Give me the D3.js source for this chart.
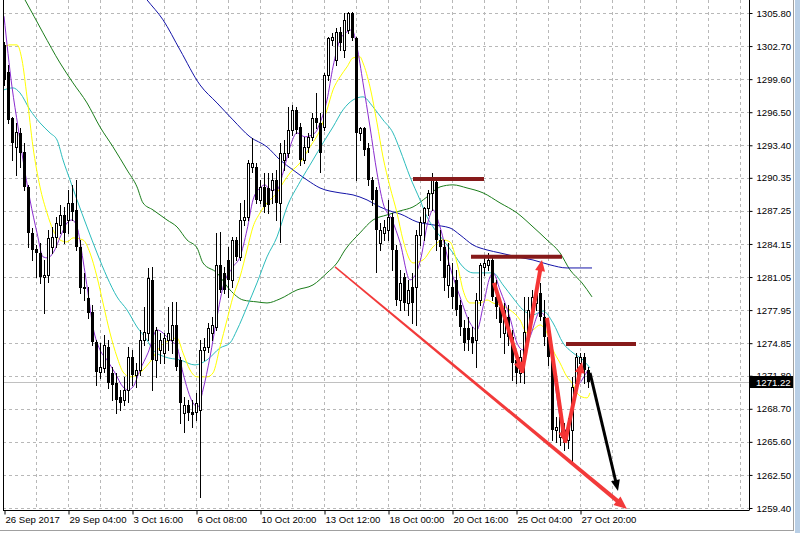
<!DOCTYPE html>
<html><head><meta charset="utf-8">
<script src="https://cdn.jsdelivr.net/npm/d3@7"></script>
<style>
body{margin:0;background:#fff;overflow:hidden}
text{font-family:"Liberation Sans",Arial,sans-serif;}
</style>
</head><body>
<svg id="chart" width="800" height="533"></svg>
<script>
// ---------------- DATA ----------------
// candles: [open, high, low, close], one per H4 bar (XAUUSD-like)
const candles = [
[1302.81,1303.09,1299.06,1299.53],[1300.28,1300.94,1295.50,1295.78],[1295.97,1296.06,1292.03,1293.62],[1293.25,1295.50,1290.62,1294.66],
[1294.56,1295.03,1291.37,1292.69],[1292.78,1293.62,1289.22,1289.50],[1289.50,1289.69,1283.87,1285.19],[1285.19,1285.65,1282.65,1283.59],
[1283.69,1284.06,1281.06,1283.31],[1283.31,1284.25,1280.50,1281.06],[1281.06,1282.65,1277.69,1281.25],[1281.25,1285.47,1280.59,1284.72],
[1283.87,1285.75,1283.31,1284.81],[1284.81,1286.69,1283.87,1286.12],[1285.94,1287.81,1285.19,1286.87],[1286.87,1287.62,1284.25,1285.19],
[1286.40,1289.22,1285.19,1288.00],[1288.00,1289.69,1286.40,1287.15],[1287.34,1290.15,1283.59,1283.87],[1283.87,1284.53,1279.56,1280.03],
[1280.12,1281.44,1278.90,1279.94],[1279.09,1280.12,1277.22,1277.69],[1277.78,1278.44,1274.69,1274.97],[1274.97,1275.15,1270.94,1272.15],
[1272.15,1274.87,1271.59,1272.62],[1272.53,1275.62,1272.15,1274.69],[1274.50,1275.15,1270.65,1271.12],[1272.06,1272.62,1269.53,1270.94],
[1271.12,1272.06,1268.31,1269.53],[1269.81,1270.47,1268.59,1269.25],[1269.53,1271.69,1269.06,1270.47],[1270.47,1274.50,1269.34,1273.56],
[1273.56,1274.22,1270.94,1271.87],[1271.87,1273.00,1270.75,1272.34],[1272.34,1276.09,1271.87,1275.15],[1275.15,1278.25,1274.69,1275.90],
[1275.81,1281.90,1275.15,1280.97],[1280.78,1282.00,1270.47,1273.28],[1273.28,1276.37,1271.69,1276.09],[1274.22,1275.81,1273.00,1275.15],
[1273.94,1275.81,1273.00,1275.34],[1275.15,1278.25,1274.22,1275.81],[1275.15,1278.72,1273.94,1276.56],[1276.56,1278.72,1272.34,1272.62],
[1273.28,1273.56,1267.37,1269.25],[1268.31,1269.81,1266.53,1269.06],[1269.06,1269.53,1267.65,1268.31],[1268.40,1269.53,1267.00,1268.12],
[1268.40,1270.19,1267.65,1269.25],[1268.59,1275.15,1260.44,1274.22],[1274.22,1275.34,1273.28,1274.50],[1274.50,1276.75,1274.03,1276.28],
[1275.81,1277.31,1275.15,1276.56],[1276.37,1285.19,1276.09,1282.19],[1282.19,1285.28,1279.65,1279.84],[1281.44,1282.00,1279.56,1279.84],
[1282.65,1283.87,1279.19,1280.78],[1280.78,1284.81,1280.12,1284.53],[1284.53,1284.81,1282.65,1282.94],[1282.94,1288.00,1282.65,1286.40],
[1286.40,1288.28,1285.94,1286.69],[1286.69,1292.03,1286.40,1291.75],[1291.37,1294.09,1290.90,1291.75],[1291.37,1291.75,1288.00,1288.28],
[1288.28,1290.15,1288.00,1289.50],[1289.50,1290.81,1287.15,1287.62],[1289.40,1290.81,1287.06,1287.81],[1289.22,1290.81,1288.00,1290.15],
[1290.15,1291.09,1286.40,1288.00],[1288.00,1293.62,1284.34,1292.69],[1292.03,1293.90,1291.09,1292.69],[1292.69,1297.00,1292.31,1294.84],
[1294.84,1297.19,1294.37,1296.72],[1296.72,1297.00,1294.56,1294.84],[1295.12,1295.50,1291.56,1292.03],[1292.03,1294.19,1291.75,1293.25],
[1293.25,1294.56,1292.78,1294.19],[1294.19,1296.44,1293.90,1295.97],[1295.97,1298.31,1295.03,1295.50],[1295.50,1296.44,1290.90,1292.69],
[1295.12,1300.19,1294.84,1300.00],[1300.00,1303.56,1299.53,1303.47],[1303.28,1303.94,1302.81,1303.56],[1301.40,1304.41,1300.94,1304.03],
[1304.03,1304.50,1302.34,1303.00],[1302.34,1305.81,1301.69,1305.16],[1304.22,1305.90,1303.94,1305.81],[1305.81,1305.90,1303.28,1303.47],
[1303.47,1303.56,1290.15,1294.56],[1294.56,1295.12,1293.90,1295.03],[1295.03,1295.12,1292.50,1292.97],[1293.16,1293.62,1289.69,1290.15],
[1290.15,1290.44,1287.81,1288.28],[1289.22,1289.50,1281.53,1285.47],[1284.25,1286.12,1283.59,1285.47],[1285.19,1286.40,1284.53,1285.75],
[1285.47,1288.28,1284.53,1286.69],[1286.69,1287.06,1281.72,1283.59],[1283.59,1284.06,1278.44,1278.90],[1278.90,1281.72,1277.97,1280.50],
[1281.06,1281.44,1277.97,1278.62],[1278.62,1280.78,1277.50,1279.84],[1280.12,1281.44,1276.75,1278.62],[1280.12,1285.47,1276.56,1285.00],
[1285.00,1286.69,1284.06,1286.22],[1286.22,1287.62,1284.53,1287.53],[1287.53,1289.22,1286.87,1288.94],[1288.94,1290.81,1287.34,1290.15],
[1289.97,1290.34,1283.59,1284.53],[1284.53,1285.47,1282.65,1283.87],[1283.87,1284.53,1279.84,1280.97],[1280.31,1284.25,1279.19,1282.19],
[1280.12,1282.37,1278.16,1279.19],[1280.78,1281.72,1277.50,1277.97],[1278.44,1278.90,1275.62,1276.37],[1276.28,1277.03,1274.22,1274.87],
[1276.28,1277.31,1274.22,1275.15],[1275.44,1276.37,1273.94,1274.87],[1275.15,1279.56,1272.62,1278.90],[1278.90,1282.37,1278.44,1282.19],
[1282.00,1282.94,1281.25,1282.37],[1282.19,1283.31,1281.72,1282.65],[1282.65,1282.94,1278.90,1279.19],[1279.19,1280.78,1277.22,1278.25],
[1278.25,1278.62,1275.44,1276.75],[1275.81,1278.62,1273.94,1277.97],[1277.31,1278.44,1274.69,1275.44],[1275.44,1276.09,1271.40,1273.00],
[1273.28,1274.22,1271.12,1272.06],[1272.06,1274.22,1271.22,1273.56],[1273.56,1279.19,1271.12,1275.90],[1275.81,1279.19,1275.15,1277.97],
[1277.97,1279.84,1277.50,1279.19],[1278.62,1280.31,1277.97,1279.56],[1279.56,1280.50,1277.03,1277.31],[1277.31,1278.90,1274.69,1275.44],
[1275.44,1276.09,1272.81,1273.56],[1273.56,1274.22,1265.78,1266.72],[1266.72,1267.94,1265.59,1267.00],[1266.06,1268.31,1265.31,1267.94],
[1266.72,1267.37,1264.84,1265.50],[1265.78,1267.84,1265.03,1267.19],[1266.72,1271.69,1263.62,1270.75],[1271.12,1273.94,1270.47,1273.56],
[1273.00,1273.94,1272.34,1273.56],[1273.56,1273.94,1271.12,1272.34],[1272.34,1272.62,1270.75,1271.22]
];

// moving averages, read as [bar index, price]
const maPurple = [[0,1305.5],[2,1298.87],[3.5,1295.12],[4.75,1292.03],[6.5,1288.28],[8.25,1285.19],[9.75,1282.94],[11,1282.84],[12.25,1283.31],[14.5,1285.19],[15.75,1286.12],[17,1286.40],[18.25,1285.75],[19.75,1282.65],[21,1279.56],[22.25,1276.37],[24,1274.22],[25.75,1273.28],[27.75,1272.06],[29.75,1270.75],[31,1270.47],[32.25,1270.75],[34,1272.34],[36,1273.94],[38.25,1276.09],[41.5,1275.15],[43.25,1274.50],[44.75,1272.06],[47.25,1269.25],[48.5,1268.87],[49.75,1270.47],[51.5,1273.56],[53.25,1277.31],[54.75,1280.12],[57.25,1282.00],[59,1282.94],[60.75,1285.47],[62.25,1288.28],[64,1289.40],[65.25,1289.69],[66.5,1289.22],[68.25,1289.22],[69.75,1290.81],[71.5,1293.25],[73.25,1294.56],[75.25,1294.19],[77.75,1294.56],[79,1295.50],[80.75,1297.65],[82.25,1300.75],[84,1303.28],[85.75,1304.03],[87,1304.22],[88.25,1302.62],[89.75,1299.25],[91.5,1295.12],[93.25,1290.81],[94.75,1288.00],[97,1286.40],[99,1284.3],[101.5,1280.78],[104,1282.47],[106,1286.22],[107.25,1287.34],[109,1285.75],[111.5,1282.00],[114,1279.19],[116.5,1276.75],[118.25,1276.09],[119.75,1278.25],[121.5,1281.06],[122.25,1281.44],[124,1279.84],[126.5,1277.22],[128.25,1274.87],[129.75,1274.22],[131.5,1275.44],[134,1277.78],[135.25,1277.31],[136.5,1274.87],[137.75,1271.12],[139,1267.94],[140.25,1266.72],[141.5,1267.65],[142.75,1270.19],[144.5,1271.40],[146,1272.34]];
const maYellow = [[0,1302.6],[1.5,1302.81],[3.25,1302.81],[4.5,1301.40],[5.75,1297.94],[7.25,1293.25],[9,1289.50],[10.75,1287.06],[12.25,1285.47],[14,1284.53],[15.75,1284.34],[17.25,1284.72],[19.75,1284.53],[21.5,1283.31],[23.25,1281.06],[24.75,1278.62],[26.5,1275.81],[28.25,1273.56],[29.75,1272.15],[31.5,1271.69],[33.25,1271.87],[34.75,1272.34],[36.5,1273.09],[39,1274.50],[41.5,1275.15],[43.25,1275.34],[44.75,1273.94],[46.5,1272.34],[48.25,1271.69],[50.75,1271.69],[52.25,1272.06],[54,1274.50],[55.75,1277.03],[57.25,1279.19],[59,1281.06],[60.75,1283.59],[62.25,1285.75],[64,1287.06],[65.75,1288.00],[68.25,1288.94],[69.75,1289.87],[71.5,1290.81],[74,1291.75],[76.5,1293.25],[79,1294.84],[80.75,1296.72],[82.25,1298.59],[84,1299.81],[85.75,1300.75],[87.25,1301.59],[89,1301.69],[89.75,1301.12],[91.5,1298.87],[93.25,1295.50],[94.75,1292.31],[96.5,1289.50],[98.25,1287.06],[99.75,1284.53],[102.25,1282.37],[104.75,1282.65],[107.25,1283.87],[109.75,1284.53],[111.5,1284.34],[113.25,1282.37],[114.75,1279.84],[116.5,1278.62],[119,1278.62],[120.75,1278.90],[122.25,1278.62],[124,1278.44],[126.5,1277.97],[129,1277.03],[130.75,1275.81],[132.25,1276.09],[134,1276.56],[135.75,1275.81],[137.25,1274.22],[139,1273.00],[140.75,1271.69],[142,1271.12],[143.25,1270.19],[144.5,1269.81],[145.75,1269.72],[146.5,1270.19]];
const maCyan = [[0,1298.6],[2.25,1298.78],[4,1298.31],[6.5,1296.72],[9,1295.50],[11.5,1294.56],[13.25,1293.90],[14.75,1292.03],[16.5,1290.15],[18.25,1288.28],[20.75,1285.75],[23.25,1283.31],[25.75,1281.06],[28.25,1279.19],[30.75,1277.97],[33.25,1276.37],[35.75,1275.15],[37.25,1274.22],[40.25,1273.56],[44,1273.28],[47.75,1272.81],[50.75,1273.28],[54,1274.40],[56.5,1274.87],[58.25,1276.09],[60.75,1278.25],[63.25,1280.50],[65.75,1282.94],[68.25,1284.81],[70.75,1287.62],[74,1289.97],[77.25,1292.03],[79.75,1293.62],[82.25,1295.12],[84.75,1296.72],[87.25,1297.65],[89.75,1297.94],[92.25,1297.00],[94.75,1295.78],[97.25,1294.56],[99,1292.97],[101.5,1290.44],[104,1288.28],[105.75,1286.69],[107.25,1285.75],[109.75,1284.53],[112.25,1283.31],[114.75,1282.00],[117.25,1281.44],[119.75,1281.44],[122.25,1281.44],[124.75,1280.31],[127.25,1279.09],[129.75,1277.97],[132.25,1277.50],[134.75,1277.87],[137.25,1276.75],[139.75,1274.87],[142.25,1273.94],[144.75,1273.28],[146.5,1272.53]];
const maGreen = [[0,1310.4],[5.25,1307.03],[9.75,1303.94],[14,1301.12],[17.25,1299.25],[20.75,1297.37],[24,1295.12],[27.25,1293.25],[30.75,1291.09],[33.25,1289.50],[34.75,1288.00],[37.25,1287.34],[40.75,1286.40],[43.25,1285.75],[45.75,1284.53],[48.25,1283.78],[49.75,1282.37],[53.25,1281.44],[56.5,1279.84],[59.75,1278.90],[63.25,1278.72],[65.75,1278.62],[69,1279.00],[73.25,1279.84],[77.25,1280.31],[80.75,1281.44],[83.25,1282.37],[85.25,1283.59],[89,1285.19],[92.25,1286.40],[95.75,1286.87],[99,1287.25],[102.25,1287.62],[105.75,1288.56],[109,1289.50],[112.25,1289.69],[115.75,1289.40],[119.75,1288.94],[124,1288.00],[128.25,1287.06],[132.25,1285.75],[135.75,1284.53],[139,1283.31],[141.5,1281.72],[144.5,1280.50],[147,1279.19]];
const maBlue = [[31.5,1309.09],[35.75,1307.03],[39.75,1305.16],[44,1302.34],[49,1299.06],[53.25,1297.37],[57.25,1295.78],[61.5,1294.19],[65.75,1293.25],[69,1292.03],[72.25,1291.09],[75.75,1290.15],[79,1289.40],[84,1288.94],[87.25,1288.75],[90.75,1288.28],[94,1287.62],[97.25,1287.15],[99,1286.97],[103.25,1286.22],[107.25,1285.94],[111.5,1285.65],[114,1285.00],[117.25,1284.06],[120.75,1283.59],[124,1283.31],[128.25,1282.94],[132.25,1282.65],[136.5,1282.19],[140.75,1281.90],[147,1281.90]];

// axis ticks
const priceTicks = [1305.80,1302.70,1299.60,1296.50,1293.40,1290.35,1287.25,1284.15,1281.05,1277.95,1274.85,1271.80,1268.70,1265.60,1262.50,1259.40];
const timeTickBars = [0,16,32,48,64,80,96,112,128,144];
const timeLabels = ["26 Sep 2017","29 Sep 04:00","3 Oct 16:00","6 Oct 08:00","10 Oct 20:00","13 Oct 12:00","18 Oct 00:00","20 Oct 16:00","25 Oct 04:00","27 Oct 20:00"];
const lastPrice = 1271.22;

// drawn annotations: [bar, price]
const resistanceLines = [[102.25,120,1290.25],[116.75,139.5,1282.94],[140.5,158,1274.78]]; // [fromBar,toBar,price]
const trendLine = [[82.75,1282.00],[155.75,1259.31]];
const zigzagArrows = [[[122.5,1280.50],[129.5,1272.06]],[[129.5,1272.06],[134.5,1282.65]],[[135.75,1277.22],[140.25,1265.50]],[[140.25,1265.50],[144.5,1273.09]]];
const forecastArrow = [[146.5,1272.06],[153.5,1261.0]];

// ---------------- DRAW ----------------
const svg = d3.select("#chart");
const plotL = 3, plotR = 749, plotT = 0, plotB = 510;
const x = d3.scaleLinear().domain([0,146]).range([4,588]);
const y = d3.scaleLinear().domain([1259.40,1305.80]).range([508,13]);

svg.append("rect").attr("width",800).attr("height",533).attr("fill","#fff");
const defs = svg.append("defs");
defs.append("clipPath").attr("id","clip").append("rect")
  .attr("x",plotL+1).attr("y",plotT).attr("width",plotR-plotL-1).attr("height",plotB-plotT);

// grid
const grid = svg.append("g").attr("stroke","#b8b8b8").attr("stroke-dasharray","3,3").attr("stroke-width",1);
grid.selectAll("line.h").data(priceTicks).join("line").attr("class","h")
  .attr("x1",plotL).attr("x2",plotR).attr("y1",d=>Math.round(y(d))+0.5).attr("y2",d=>Math.round(y(d))+0.5);
const gridBars = d3.range(8, 186, 8);
grid.selectAll("line.v").data(gridBars).join("line").attr("class","v")
  .attr("y1",plotT).attr("y2",plotB).attr("x1",d=>Math.round(x(d))+0.5).attr("x2",d=>Math.round(x(d))+0.5);

// current price line
svg.append("line").attr("x1",plotL).attr("x2",plotR)
  .attr("y1",Math.round(y(lastPrice))+0.5).attr("y2",Math.round(y(lastPrice))+0.5)
  .attr("stroke","#c0c0c0");

const plot = svg.append("g").attr("clip-path","url(#clip)");

// moving averages
const line = d3.line().x(d=>x(d[0])).y(d=>y(d[1])).curve(d3.curveMonotoneX);
[[maGreen,"#1b7d1b"],[maBlue,"#1414a8"],[maCyan,"#2bbcbc"],[maYellow,"#ffff00"],[maPurple,"#8a2ccf"]].forEach(([data,col])=>{
  plot.append("path").datum(data).attr("d",line).attr("fill","none").attr("stroke",col).attr("stroke-width",1);
});

// candles
const cg = plot.append("g");
const cs = cg.selectAll("g").data(candles).join("g");
cs.append("line")
  .attr("x1",(d,i)=>Math.round(x(i))+0.5).attr("x2",(d,i)=>Math.round(x(i))+0.5)
  .attr("y1",d=>Math.round(y(d[1]))).attr("y2",d=>Math.round(y(d[2]))+1)
  .attr("stroke","#000").attr("stroke-width",1);
cs.append("rect")
  .attr("x",(d,i)=> d[3]>=d[0] ? Math.round(x(i))-0.5 : Math.round(x(i))-1)
  .attr("y",d=>{const t=Math.round(y(Math.max(d[0],d[3]))); return d[3]>=d[0]? t+0.5 : t;})
  .attr("width",d=> d[3]>=d[0] ? 2 : 3)
  .attr("height",d=>Math.max(1,Math.round(y(Math.min(d[0],d[3])))-Math.round(y(Math.max(d[0],d[3])))))
  .attr("fill",d=> d[3]>=d[0] ? "#fff" : "#000")
  .attr("stroke",d=> d[3]>=d[0] ? "#000" : "none").attr("stroke-width",1);

// resistance lines
const ann = svg.append("g");
ann.selectAll("line.res").data(resistanceLines).join("line").attr("class","res")
  .attr("x1",d=>x(d[0])).attr("x2",d=>x(d[1])).attr("y1",d=>y(d[2])).attr("y2",d=>y(d[2]))
  .attr("stroke","#861a1a").attr("stroke-width",4);

// arrow helper
function arrow(g, a, b, w0, w1, color, headLen, headWid){
  const p0=[x(a[0]),y(a[1])], p1=[x(b[0]),y(b[1])];
  const dx=p1[0]-p0[0], dy=p1[1]-p0[1], L=Math.hypot(dx,dy);
  const ux=dx/L, uy=dy/L, nx=-uy, ny=ux;
  const bx=p1[0]-ux*headLen, by=p1[1]-uy*headLen;
  const ex=p1[0]-ux*headLen*0.6, ey=p1[1]-uy*headLen*0.6;
  const shaft=[[p0[0]+nx*w0/2,p0[1]+ny*w0/2],[ex+nx*w1/2,ey+ny*w1/2],[ex-nx*w1/2,ey-ny*w1/2],[p0[0]-nx*w0/2,p0[1]-ny*w0/2]];
  g.append("path").attr("d","M"+shaft.map(p=>p.join(",")).join("L")+"Z").attr("fill",color);
  const head=[[p1[0],p1[1]],[bx+nx*headWid/2,by+ny*headWid/2],[bx-nx*headWid/2,by-ny*headWid/2]];
  g.append("path").attr("d","M"+head.map(p=>p.join(",")).join("L")+"Z").attr("fill",color);
}
arrow(ann, trendLine[0], trendLine[1], 1.4, 4.2, "#f23a3a", 13, 11);
zigzagArrows.forEach(s=>arrow(ann, s[0], s[1], 4, 4, "#f53535", 11, 10));
arrow(ann, forecastArrow[0], forecastArrow[1], 3, 3, "#000", 11, 9);

// frame
svg.append("line").attr("x1",plotL+0.5).attr("x2",plotL+0.5).attr("y1",0).attr("y2",plotB+0.5).attr("stroke","#000");
svg.append("rect").attr("x",0).attr("y",0).attr("width",plotL).attr("height",533).attr("fill","#fff");

// right price axis
const yAxis = d3.axisRight(y).tickValues(priceTicks).tickFormat(d3.format(".2f")).tickSize(3).tickPadding(4);
const ya = svg.append("g").attr("transform",`translate(${plotR+0.5},0)`).call(yAxis);
ya.select(".domain").attr("d",`M0,0V${plotB}`).attr("stroke","#000");
ya.selectAll("text").attr("font-size","9.6px").attr("fill","#000").attr("font-family","Liberation Sans, Arial, sans-serif");
ya.selectAll(".tick line").attr("stroke","#000");

// bottom time axis
const xAxis = d3.axisBottom(x).tickValues(timeTickBars).tickFormat((d,i)=>timeLabels[i]).tickSize(4).tickSizeOuter(0);
const xa = svg.append("g").attr("transform",`translate(0,${plotB+0.5})`).call(xAxis);
xa.select(".domain").attr("d",`M${plotL},0H${plotR+0.5}`).attr("stroke","#000");
xa.selectAll(".tick line").attr("stroke","#000").attr("transform","translate(0.5,0)");
xa.selectAll("text").attr("text-anchor","start").attr("dx","0.1em").attr("dy","0.6em")
  .attr("font-size","9.6px").attr("fill","#000").attr("font-family","Liberation Sans, Arial, sans-serif");

// last price tag
const ly = Math.round(y(lastPrice));
svg.append("rect").attr("x",plotR+1).attr("y",ly-6).attr("width",44).attr("height",12).attr("fill","#000");
svg.append("text").attr("x",plotR+7).attr("y",ly+3.5).attr("fill","#fff").attr("font-size","9.6px").text(d3.format(".2f")(lastPrice));

// window edges
svg.append("line").attr("x1",793.5).attr("x2",793.5).attr("y1",0).attr("y2",531).attr("stroke","#a0a0a0");
svg.append("rect").attr("x",795).attr("y",0).attr("width",5).attr("height",533).attr("fill","#b9cfe6");
svg.append("line").attr("x1",0).attr("x2",794).attr("y1",530.5).attr("y2",530.5).attr("stroke","#a0a0a0");
</script>
</body></html>
